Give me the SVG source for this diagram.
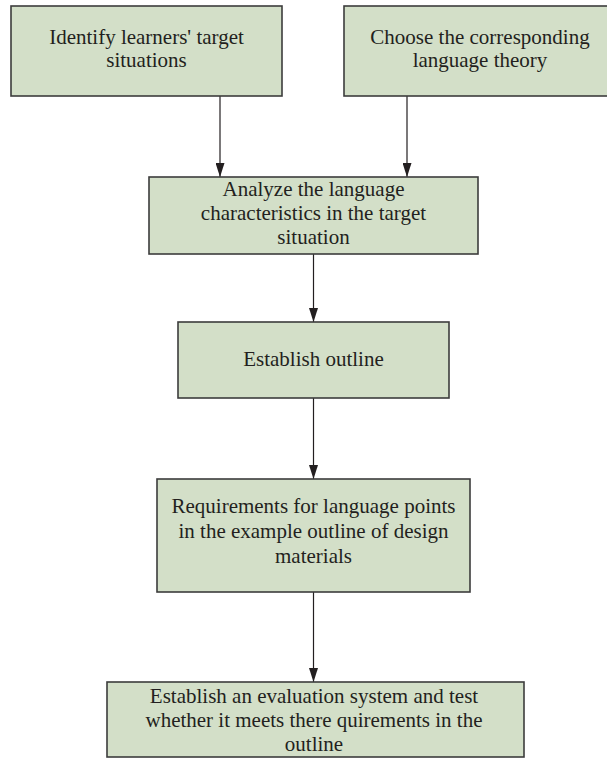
<svg xmlns="http://www.w3.org/2000/svg" width="607" height="759" viewBox="0 0 607 759">
  <style>
    .box { fill: #d3dfc8; stroke: #3c3c3c; stroke-width: 1.6; }
    .lbl { font-family: "Liberation Serif", "Times New Roman", serif; font-size: 21px; fill: #231f20; text-anchor: middle; }
    .edge { stroke: #231f20; stroke-width: 1.2; fill: none; marker-end: url(#arrow); }
  </style>
  <defs>
    <!-- filled triangular arrowhead, tip at the end of the line -->
    <marker id="arrow" markerWidth="14" markerHeight="9" refX="14" refY="4.5" orient="auto" markerUnits="userSpaceOnUse" viewBox="0 0 14 9">
      <path d="M0,0 L14,4.5 L0,9 Z" fill="#231f20"/>
    </marker>
  </defs>
  <rect width="607" height="759" fill="#ffffff"/>

  <g id="connectors">
    <line class="edge" x1="220" y1="96" x2="220" y2="177"/>
    <line class="edge" x1="407" y1="96" x2="407" y2="177"/>
    <line class="edge" x1="313.5" y1="254" x2="313.5" y2="322"/>
    <line class="edge" x1="313.5" y1="398" x2="313.5" y2="479"/>
    <line class="edge" x1="313.5" y1="592" x2="313.5" y2="682"/>
  </g>

  <g id="identify-target">
    <rect class="box" x="11" y="6" width="271" height="90"/>
    <text class="lbl" x="146.5" y="44">Identify learners' target</text>
    <text class="lbl" x="146.5" y="67">situations</text>
  </g>

  <g id="choose-theory">
    <rect class="box" x="344" y="6" width="272" height="90"/>
    <text class="lbl" x="480" y="44">Choose the corresponding</text>
    <text class="lbl" x="480" y="67">language theory</text>
  </g>

  <g id="analyze-characteristics">
    <rect class="box" x="149" y="177" width="329" height="77"/>
    <text class="lbl" x="313.5" y="196">Analyze the language</text>
    <text class="lbl" x="313.5" y="220">characteristics in the target</text>
    <text class="lbl" x="313.5" y="244">situation</text>
  </g>

  <g id="establish-outline">
    <rect class="box" x="178" y="322" width="271" height="76"/>
    <text class="lbl" x="313.5" y="366">Establish outline</text>
  </g>

  <g id="requirements">
    <rect class="box" x="157" y="479" width="313" height="113"/>
    <text class="lbl" x="313.5" y="513">Requirements for language points</text>
    <text class="lbl" x="313.5" y="538">in the example outline of design</text>
    <text class="lbl" x="313.5" y="563">materials</text>
  </g>

  <g id="evaluation-system">
    <rect class="box" x="107" y="682" width="417" height="75"/>
    <text class="lbl" x="314" y="703">Establish an evaluation system and test</text>
    <text class="lbl" x="314" y="727">whether it meets there quirements in the</text>
    <text class="lbl" x="314" y="751">outline</text>
  </g>
</svg>
